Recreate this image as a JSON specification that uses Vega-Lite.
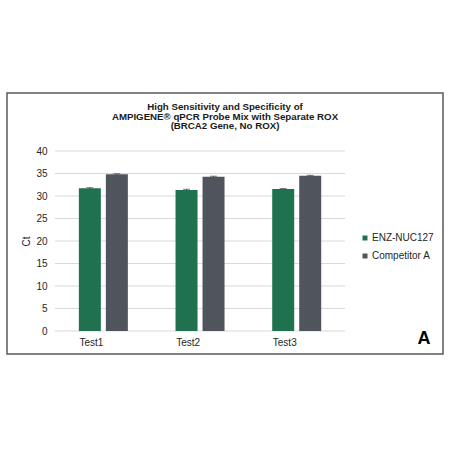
{
  "$schema": "https://vega.github.io/schema/vega-lite/v6.json",
  "width": 436,
  "height": 261,
  "autosize": {"type": "none"},
  "padding": {"left": 7, "top": 93, "right": 7, "bottom": 96},
  "background": "white",
  "config": {
    "font": "Liberation Sans",
    "view": {"stroke": "#5a5a5a", "strokeWidth": 1.5}
  },
  "title": {
    "text": ["High Sensitivity and Specificity of", "AMPIGENE® qPCR Probe Mix with Separate ROX", "(BRCA2 Gene, No ROX)"],
    "fontSize": 9.7,
    "fontWeight": "bold",
    "color": "#1a1a1a",
    "lineHeight": 9.5,
    "anchor": "middle",
    "frame": "group",
    "offset": -38
  },
  "datasets": {
    "bars": [
      {"test": "Test1", "product": "ENZ-NUC127", "ct": 31.7, "lo": 31.55, "hi": 31.85},
      {"test": "Test1", "product": "Competitor A", "ct": 34.85, "lo": 34.75, "hi": 34.95},
      {"test": "Test2", "product": "ENZ-NUC127", "ct": 31.35, "lo": 31.2, "hi": 31.5},
      {"test": "Test2", "product": "Competitor A", "ct": 34.3, "lo": 34.2, "hi": 34.4},
      {"test": "Test3", "product": "ENZ-NUC127", "ct": 31.55, "lo": 31.45, "hi": 31.65},
      {"test": "Test3", "product": "Competitor A", "ct": 34.5, "lo": 34.4, "hi": 34.6}
    ],
    "grid": [
      {"v": 0}, {"v": 5}, {"v": 10}, {"v": 15}, {"v": 20}, {"v": 25}, {"v": 30}, {"v": 35}, {"v": 40}
    ]
  },
  "layer": [
    {
      "data": {"name": "grid"},
      "mark": {"type": "rule", "color": "#d9d9d9", "strokeWidth": 1},
      "encoding": {
        "y": {"field": "v", "type": "quantitative"},
        "x": {"datum": "Test1", "type": "nominal", "bandPosition": 0},
        "x2": {"datum": "Test3", "bandPosition": 1}
      }
    },
    {
      "data": {"name": "bars"},
      "mark": {"type": "bar"},
      "encoding": {
        "x": {
          "field": "test", "type": "nominal",
          "scale": {"paddingInner": 0, "paddingOuter": 0.755, "align": 0.329},
          "axis": {
            "orient": "bottom", "offset": -23, "domain": false, "ticks": false, "tickSize": 0,
            "labelAngle": 0, "labelFontSize": 10, "labelColor": "#262626", "labelPadding": 6,
            "labelBaseline": "top",
            "title": "A", "titleFontSize": 18, "titleFontWeight": "bold", "titleColor": "#000000",
            "titleAlign": "right", "titleBaseline": "alphabetic", "titleX": 423, "titleY": 12
          }
        },
        "xOffset": {
          "field": "product", "type": "nominal",
          "sort": ["ENZ-NUC127", "Competitor A"],
          "scale": {"paddingInner": 0.185, "paddingOuter": 0.883}
        },
        "y": {
          "field": "ct", "type": "quantitative",
          "scale": {"domain": [-5.11, 52.89], "nice": false, "zero": false},
          "axis": {
            "values": [0, 5, 10, 15, 20, 25, 30, 35, 40], "tickCount": 12,
            "offset": -48, "domain": false, "ticks": false, "tickSize": 0, "grid": false,
            "labelOverlap": false,
            "labelFontSize": 10, "labelColor": "#262626", "labelPadding": 8,
            "title": "Ct", "titleFontSize": 10, "titleFontWeight": "normal", "titleColor": "#262626",
            "titleX": -29, "titleY": 148, "titleAngle": -90, "titleAlign": "center", "titleBaseline": "middle"
          }
        },
        "color": {
          "field": "product", "type": "nominal",
          "sort": ["ENZ-NUC127", "Competitor A"],
          "scale": {"domain": ["ENZ-NUC127", "Competitor A"], "range": ["#1f7150", "#50545d"]},
          "legend": {
            "title": null, "orient": "none", "legendX": 353, "legendY": 140,
            "symbolType": "square", "symbolSize": 25, "symbolStrokeWidth": 0,
            "labelFontSize": 10, "labelColor": "#262626", "labelOffset": 2,
            "rowPadding": 8, "padding": 0
          }
        }
      }
    },
    {
      "data": {"name": "bars"},
      "mark": {"type": "rule", "color": "#404040", "strokeWidth": 1},
      "encoding": {
        "x": {"field": "test", "type": "nominal"},
        "xOffset": {"field": "product", "type": "nominal", "sort": ["ENZ-NUC127", "Competitor A"]},
        "y": {"field": "lo", "type": "quantitative"},
        "y2": {"field": "hi"}
      }
    },
    {
      "data": {"name": "bars"},
      "mark": {"type": "tick", "color": "#404040", "thickness": 1, "size": 7},
      "encoding": {
        "x": {"field": "test", "type": "nominal"},
        "xOffset": {"field": "product", "type": "nominal", "sort": ["ENZ-NUC127", "Competitor A"]},
        "y": {"field": "hi", "type": "quantitative"}
      }
    }
  ]
}
